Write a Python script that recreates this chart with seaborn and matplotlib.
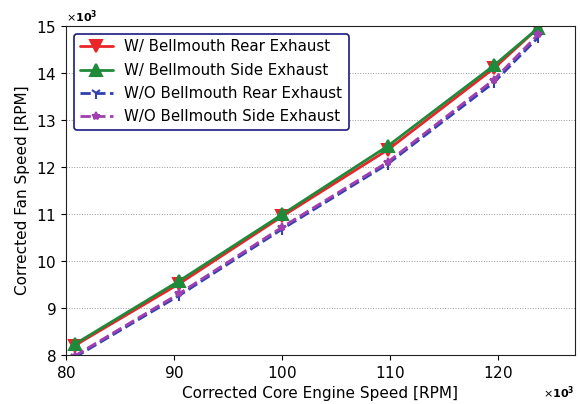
import matplotlib
matplotlib.use("Agg")
import matplotlib.pyplot as plt
import matplotlib.ticker as mticker
import seaborn as sns
import pandas as pd

# core engine speed [RPM]
core_speed = [80800, 90500, 100000, 109800, 119600, 123700]

# corrected fan speed [RPM] for each configuration
fan_bm_rear = [8200, 9520, 10950, 12370, 14100, 14960]
fan_bm_side = [8230, 9580, 10990, 12450, 14160, 14960]
fan_nobm_rear = [7950, 9270, 10680, 12070, 13800, 14760]
fan_nobm_side = [7980, 9310, 10720, 12110, 13860, 14820]

labels = ["W/ Bellmouth Rear Exhaust", "W/ Bellmouth Side Exhaust",
          "W/O Bellmouth Rear Exhaust", "W/O Bellmouth Side Exhaust"]

df = pd.DataFrame({
    "core": core_speed * 4,
    "fan": fan_bm_rear + fan_bm_side + fan_nobm_rear + fan_nobm_side,
    "case": [l for l in labels for _ in core_speed],
})

sns.set_style("ticks")
plt.rcParams["font.family"] = ["DejaVu Sans"]
plt.rcParams["text.color"] = "black"
plt.rcParams["axes.labelcolor"] = "black"
plt.rcParams["xtick.color"] = "black"
plt.rcParams["ytick.color"] = "black"

fig = plt.figure(figsize=(5.8, 4.04), dpi=100)
ax = fig.add_axes([66 / 580, 1 - 355 / 404, (575 - 66) / 580, (355 - 26) / 404])

colors = ["#e8262a", "#1e8a3a", "#3040b0", "#a040b0"]
markers = ["v", "^", "1", "*"]
styles = ["-", "-", "--", "--"]
sizes = [8, 8, 8, 6]
for lab, c, m, ls, ms in zip(labels, colors, markers, styles, sizes):
    sub = df[df["case"] == lab]
    sns.lineplot(data=sub, x="core", y="fan", ax=ax, color=c, marker=m,
                 linestyle=ls, linewidth=2, markersize=ms, markeredgewidth=1.5,
                 markeredgecolor=c, label=lab)

ax.set_xlim(80000, 127100)
ax.set_ylim(8000, 15000)
ax.xaxis.set_major_locator(mticker.MultipleLocator(10000))
ax.yaxis.set_major_locator(mticker.MultipleLocator(1000))
for axis in (ax.xaxis, ax.yaxis):
    fmt = mticker.ScalarFormatter(useMathText=True)
    fmt.set_powerlimits((3, 3))
    axis.set_major_formatter(fmt)
    axis.get_offset_text().set_fontsize(8)
    axis.get_offset_text().set_fontweight("bold")

ax.yaxis.grid(True, linestyle=":", color="#999999", linewidth=0.7)
ax.tick_params(labelsize=11, colors="black")
ax.set_xlabel("Corrected Core Engine Speed [RPM]", fontsize=11)
ax.set_ylabel("Corrected Fan Speed [RPM]", fontsize=11)
for s in ax.spines.values():
    s.set_color("#222222")

leg = ax.legend(loc="upper left", fontsize=10.8, frameon=True, fancybox=True,
                edgecolor="#1a1a80", framealpha=1, handlelength=2.2,
                borderpad=0.4, labelspacing=0.55)
leg.get_frame().set_linewidth(1.2)

fig.savefig("out.png", dpi=100)
